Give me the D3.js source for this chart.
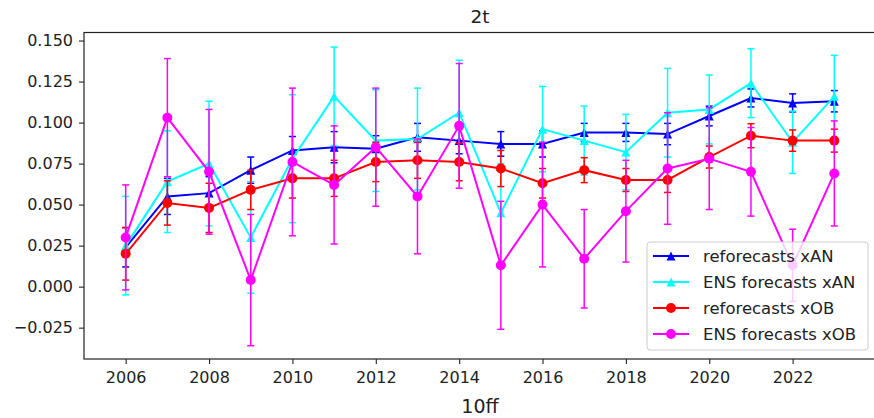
<!DOCTYPE html>
<html>
<head>
<meta charset="utf-8">
<script src="https://cdn.jsdelivr.net/npm/d3@7"></script>
<style>
  body { margin: 0; background: #fff; }
  text { font-family: "DejaVu Sans", sans-serif; fill: #222; }
</style>
</head>
<body>
<svg id="chart" width="874" height="418"></svg>
<script>
// values
var years = [2006, 2007, 2008, 2009, 2010, 2011, 2012, 2013, 2014, 2015, 2016, 2017, 2018, 2019, 2020, 2021, 2022, 2023];

var reforecastsAN = [0.024, 0.055, 0.057, 0.071, 0.083, 0.085, 0.084, 0.091, 0.089, 0.087, 0.087, 0.094, 0.094, 0.093, 0.104, 0.115, 0.112, 0.113];
var reforecastsANErr = [0.012, 0.011, 0.010, 0.008, 0.0085, 0.0095, 0.008, 0.0085, 0.008, 0.0075, 0.008, 0.0055, 0.0055, 0.0065, 0.006, 0.0055, 0.0055, 0.0065];

var ensAN = [0.025, 0.064, 0.075, 0.030, 0.078, 0.116, 0.089, 0.090, 0.106, 0.045, 0.096, 0.089, 0.082, 0.106, 0.108, 0.124, 0.088, 0.116];
var ensANErr = [0.030, 0.031, 0.038, 0.034, 0.039, 0.030, 0.031, 0.031, 0.032, 0.030, 0.026, 0.021, 0.023, 0.027, 0.021, 0.021, 0.019, 0.025];

var reforecastsOB = [0.020, 0.051, 0.048, 0.059, 0.066, 0.066, 0.076, 0.077, 0.076, 0.072, 0.063, 0.071, 0.065, 0.065, 0.079, 0.092, 0.089, 0.089];
var reforecastsOBErr = [0.016, 0.0135, 0.015, 0.012, 0.012, 0.011, 0.012, 0.011, 0.0115, 0.011, 0.009, 0.0076, 0.007, 0.0076, 0.0067, 0.0073, 0.0065, 0.007];

var ensOB = [0.030, 0.103, 0.070, 0.004, 0.076, 0.062, 0.085, 0.055, 0.098, 0.013, 0.050, 0.017, 0.046, 0.072, 0.078, 0.070, 0.013, 0.069];
var ensOBErr = [0.032, 0.036, 0.038, 0.040, 0.045, 0.036, 0.036, 0.035, 0.038, 0.039, 0.038, 0.030, 0.031, 0.034, 0.031, 0.027, 0.022, 0.032];

var xTicks = [2006, 2008, 2010, 2012, 2014, 2016, 2018, 2020, 2022];
var yTicks = [-0.025, 0, 0.025, 0.05, 0.075, 0.1, 0.125, 0.15];

var series = [
    { name: "reforecasts xAN", values: reforecastsAN, err: reforecastsANErr, color: "#0000ff", marker: "triangle" },
    { name: "ENS forecasts xAN", values: ensAN, err: ensANErr, color: "#00ffff", marker: "triangle" },
    { name: "reforecasts xOB", values: reforecastsOB, err: reforecastsOBErr, color: "#ff0000", marker: "circle" },
    { name: "ENS forecasts xOB", values: ensOB, err: ensOBErr, color: "#ff00ff", marker: "circle" }
];

var svg = d3.select("#chart"),
    margin = { top: 32.5, right: -2, bottom: 59, left: 84 },
    width = +svg.attr("width") - margin.left - margin.right,
    height = +svg.attr("height") - margin.top - margin.bottom;

var x = d3.scaleLinear().domain([2005, 2024]).range([0, width]),
    y = d3.scaleLinear().domain([-0.0441, 0.1549]).range([height, 0]);

var g = svg.append("g")
    .attr("transform", "translate(" + margin.left + "," + margin.top + ")");

var triangle = "M0,-4.5L4.5,4.5L-4.5,4.5Z";

function drawMarker(sel, s) {
    if (s.marker === "triangle") {
        sel.append("path").attr("d", triangle).attr("fill", s.color);
    } else {
        sel.append("circle").attr("r", 5).attr("fill", s.color);
    }
}

var line = d3.line()
    .x(function(d) { return x(d.year); })
    .y(function(d) { return y(d.v); });

series.forEach(function(s) {
    var data = years.map(function(yr, i) { return { year: yr, v: s.values[i], e: s.err[i] }; });
    var sg = g.append("g");

    var bars = sg.selectAll(".err")
        .data(data)
        .enter().append("g")
        .attr("stroke", s.color)
        .attr("stroke-width", 1.5);
    bars.append("line")
        .attr("x1", function(d) { return x(d.year); })
        .attr("x2", function(d) { return x(d.year); })
        .attr("y1", function(d) { return y(d.v - d.e); })
        .attr("y2", function(d) { return y(d.v + d.e); });
    bars.append("line")
        .attr("x1", function(d) { return x(d.year) - 3.5; })
        .attr("x2", function(d) { return x(d.year) + 3.5; })
        .attr("y1", function(d) { return y(d.v - d.e); })
        .attr("y2", function(d) { return y(d.v - d.e); });
    bars.append("line")
        .attr("x1", function(d) { return x(d.year) - 3.5; })
        .attr("x2", function(d) { return x(d.year) + 3.5; })
        .attr("y1", function(d) { return y(d.v + d.e); })
        .attr("y2", function(d) { return y(d.v + d.e); });

    sg.append("path")
        .datum(data)
        .attr("fill", "none")
        .attr("stroke", s.color)
        .attr("stroke-width", 2)
        .attr("d", line);

    sg.selectAll(".mk")
        .data(data)
        .enter().append("g")
        .attr("transform", function(d) { return "translate(" + x(d.year) + "," + y(d.v) + ")"; })
        .each(function() { drawMarker(d3.select(this), s); });
});

// axes
var xAxis = g.append("g")
    .attr("transform", "translate(0," + height + ")")
    .call(d3.axisBottom(x).tickValues(xTicks).tickFormat(d3.format("d")).tickSize(5).tickPadding(8));

var yAxis = g.append("g")
    .call(d3.axisLeft(y).tickValues(yTicks).tickFormat(d3.format(".3f")).tickSize(5).tickPadding(6));

[xAxis, yAxis].forEach(function(a) {
    a.select(".domain").remove();
    a.selectAll("line").attr("stroke", "#222").attr("stroke-width", 1.1);
    a.selectAll("text").attr("font-size", 16).attr("fill", "#222").style("font-family", "DejaVu Sans");
});

g.append("rect")
    .attr("width", width)
    .attr("height", height)
    .attr("fill", "none")
    .attr("stroke", "#222")
    .attr("stroke-width", 1.2);

// title and axis label
svg.append("text")
    .attr("x", margin.left + width / 2)
    .attr("y", 23)
    .attr("text-anchor", "middle")
    .attr("font-size", 18.5)
    .text("2t");

svg.append("text")
    .attr("x", margin.left + width / 2)
    .attr("y", 413)
    .attr("text-anchor", "middle")
    .attr("font-size", 19)
    .text("10ff");

// legend
var legend = svg.append("g")
    .attr("transform", "translate(647,242)");

legend.append("rect")
    .attr("width", 221)
    .attr("height", 108)
    .attr("rx", 3)
    .attr("fill", "#fff")
    .attr("fill-opacity", 0.8)
    .attr("stroke", "#ccc");

var items = legend.selectAll(".item")
    .data(series)
    .enter().append("g")
    .attr("transform", function(d, i) { return "translate(0," + (14 + i * 26) + ")"; });

items.append("line")
    .attr("x1", 6)
    .attr("x2", 42)
    .attr("stroke", function(d) { return d.color; })
    .attr("stroke-width", 2);

items.append("g")
    .attr("transform", "translate(24,0)")
    .each(function(d) { drawMarker(d3.select(this), d); });

items.append("text")
    .attr("x", 56)
    .attr("dy", "0.35em")
    .attr("font-size", 16.5)
    .text(function(d) { return d.name; });
</script>
</body>
</html>
